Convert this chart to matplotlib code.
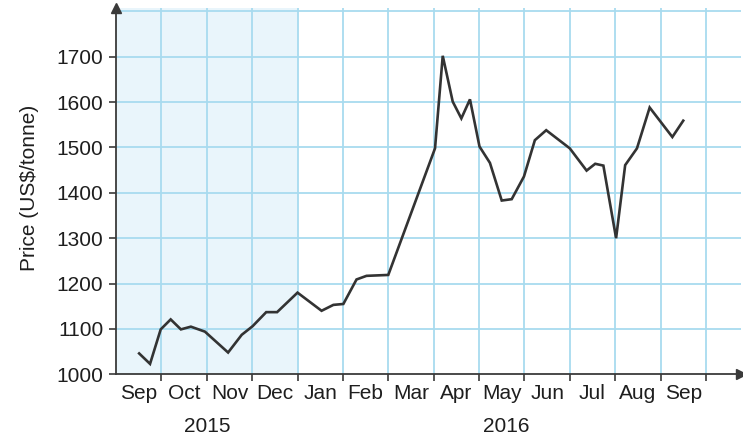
import matplotlib
matplotlib.use("Agg")
import matplotlib.pyplot as plt

plt.rcParams['font.family'] = ['Liberation Sans', 'DejaVu Sans']

# Weekly price, x in months since the start of Sep 2015
months_elapsed = [0.51, 0.75, 0.985, 1.205, 1.43, 1.65, 1.96, 2.47, 2.77, 3.01,
                  3.31, 3.55, 4.0, 4.53, 4.79, 5.01, 5.30, 5.52, 6.0, 7.03,
                  7.2, 7.42, 7.61, 7.80, 8.01, 8.24, 8.50, 8.72, 8.99, 9.23,
                  9.48, 10.0, 10.37, 10.56, 10.74, 11.02, 11.22, 11.48, 11.76,
                  12.26, 12.50]
price = [1046, 1023, 1099, 1121, 1099, 1105, 1094, 1048, 1087, 1106,
         1137, 1137, 1180, 1140, 1153, 1155, 1209, 1217, 1219, 1498,
         1702, 1601, 1564, 1606, 1502, 1466, 1383, 1386, 1436, 1516,
         1538, 1498, 1449, 1464, 1460, 1300, 1461, 1498, 1588,
         1523, 1559]

month_labels = ['Sep', 'Oct', 'Nov', 'Dec', 'Jan', 'Feb', 'Mar', 'Apr',
                'May', 'Jun', 'Jul', 'Aug', 'Sep']
year_labels = ['2015', '2016']
year_centres = [2.0, 8.6]
y_ticks = [1000, 1100, 1200, 1300, 1400, 1500, 1600, 1700]

text_col = '#1e1e1e'
axis_col = '#3a3a3a'
grid_col = '#a8dbef'
shade_col = '#e9f5fb'

fig = plt.figure(figsize=(7.43, 4.36), dpi=100)
ax = fig.add_axes([116 / 743, (436 - 374.3) / 436, 625 / 743, 366.3 / 436])

xmax = 625 / 45.38
ymax = 1000 + 366.3 / 0.4537
ax.set_xlim(0, xmax)
ax.set_ylim(1000, ymax)

# 2015 part of the period shaded
ax.axvspan(0, 4, color=shade_col, zorder=0, lw=0)

# Grid: month boundaries and every 100 US$
for m in range(1, 14):
    ax.axvline(m, color=grid_col, lw=1.3, zorder=1)
for v in range(1100, 1900, 100):
    ax.axhline(v, color=grid_col, lw=1.3, zorder=1)

ax.plot(months_elapsed, price, color='#333333', lw=1.9, zorder=3,
        solid_joinstyle='miter')

for s in ['top', 'right']:
    ax.spines[s].set_visible(False)
for s in ['left', 'bottom']:
    ax.spines[s].set_color(axis_col)
    ax.spines[s].set_linewidth(1.3)
    ax.spines[s].set_zorder(4)

# Arrow heads at the ends of the axes
ax.plot(0, 1.0, marker='^', color=axis_col, markersize=7,
        transform=ax.get_xaxis_transform(), clip_on=False, zorder=5)
ax.plot(1.0, 1000, marker='>', color=axis_col, markersize=7,
        transform=ax.get_yaxis_transform(), clip_on=False, zorder=5)

ax.set_xticks(range(1, 14))
ax.set_xticklabels([])
ax.set_yticks(y_ticks)
ax.set_yticklabels([str(v) for v in y_ticks], fontsize=15, color=text_col)
ax.tick_params(axis='both', direction='out', length=5, width=1.2,
               color=axis_col, pad=4)

for i, lab in enumerate(month_labels):
    ax.text(i + 0.5, -0.0674, lab, transform=ax.get_xaxis_transform(),
            ha='center', va='baseline', fontsize=15, color=text_col)
for lab, c in zip(year_labels, year_centres):
    ax.text(c, -0.158, lab, transform=ax.get_xaxis_transform(),
            ha='center', va='baseline', fontsize=15, color=text_col)

fig.text(30 / 743, 1 - 188 / 436, 'Price (US$/tonne)', rotation=90,
         ha='center', va='center', fontsize=15, color=text_col)

fig.savefig('out.png', dpi=100)
